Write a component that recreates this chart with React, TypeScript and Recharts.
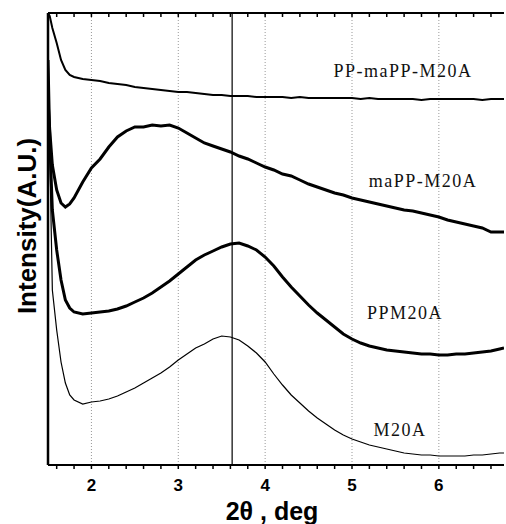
import React from 'react';
import { LineChart, Line, XAxis, YAxis, ReferenceLine } from 'recharts';

// 2-theta grid (deg)
const twoTheta = [
  1.5, 1.52, 1.55, 1.6, 1.65, 1.7, 1.75, 1.8, 1.9, 2.0, 2.1, 2.2, 2.3, 2.4, 2.5, 2.6, 2.7, 2.8, 2.9, 3.0,
  3.1, 3.2, 3.3, 3.4, 3.5, 3.6, 3.7, 3.8, 3.9, 4.0, 4.1, 4.2, 4.3, 4.4, 4.5, 4.6, 4.7, 4.8, 4.9, 5.0,
  5.1, 5.2, 5.3, 5.4, 5.5, 5.6, 5.7, 5.8, 5.9, 6.0, 6.1, 6.2, 6.3, 6.4, 6.5, 6.6, 6.7, 6.75,
];

// intensities (arbitrary units, offset per curve as in the figure)
const ppMaPP = [
  452, 449, 437, 422, 405, 395, 390, 388, 386, 385, 384, 382, 381, 380, 378, 377, 376, 375, 374, 373,
  373, 372, 371, 370, 370, 369, 369, 369, 368, 368, 368, 368, 367, 368, 367, 367, 367, 367, 367, 367,
  366, 367, 366, 366, 366, 366, 366, 365, 366, 366, 366, 366, 366, 366, 365, 366, 366, 366,
];
const maPP = [
  365, 335, 300, 275, 262, 258, 261, 267, 283, 297, 306, 318, 328, 334, 338, 338, 340, 339, 340, 337,
  332, 327, 322, 319, 316, 313, 309, 306, 302, 298, 295, 291, 289, 285, 281, 278, 275, 272, 270, 267,
  265, 263, 261, 259, 257, 255, 254, 252, 250, 248, 245, 243, 241, 239, 237, 233, 233, 233,
];
const ppm = [
  405, 325, 255, 215, 185, 165, 157, 153, 151, 152, 153, 154, 156, 159, 163, 167, 172, 178, 184, 191,
  198, 205, 210, 214, 218, 221, 222, 219, 215, 208, 199, 188, 178, 169, 160, 152, 145, 138, 131, 126,
  122, 119, 117, 115, 114, 113, 112, 111, 111, 110, 110, 111, 111, 112, 113, 114, 116, 117,
];
const m20a = [
  425, 315, 175, 135, 103, 82, 70, 65, 61, 63, 64, 66, 69, 73, 77, 82, 87, 92, 98, 105,
  111, 117, 121, 126, 129, 128, 125, 119, 112, 103, 91, 80, 70, 62, 54, 47, 41, 35, 30, 26,
  23, 20, 18, 16, 14, 12, 11, 10, 10, 9, 9, 9, 9, 10, 10, 11, 12, 12,
];

const xTicks = [
  1.6, 1.8, 2, 2.2, 2.4, 2.6, 2.8, 3, 3.2, 3.4, 3.6, 3.8, 4, 4.2, 4.4, 4.6, 4.8, 5,
  5.2, 5.4, 5.6, 5.8, 6, 6.2, 6.4, 6.6,
];
const gridX = [2, 3, 4, 5, 6];
const peakX = 3.62;
const yTop = 452;

const mk = (ys: number[]) => twoTheta.map((x, i) => ({ x, y: ys[i] }));

const series = [
  { name: 'PP-maPP-M20A', data: mk(ppMaPP), w: 2 },
  { name: 'maPP-M20A', data: mk(maPP), w: 3 },
  { name: 'PPM20A', data: mk(ppm), w: 3 },
  { name: 'M20A', data: mk(m20a), w: 1.2 },
];

const serif = { fontFamily: '"Liberation Serif", "DejaVu Serif", serif', fontSize: 18, letterSpacing: 1.5, fill: '#111' };
const sans = '"Liberation Sans", Arial, sans-serif';

export default function App() {
  return (
    <div style={{ position: 'absolute', left: 0, top: 0, background: '#fff' }}>
      <LineChart width={506} height={524} margin={{ top: 13, right: 2, left: 0, bottom: 0 }}>
        <XAxis
          dataKey="x"
          type="number"
          domain={[1.5, 6.75]}
          ticks={xTicks}
          allowDataOverflow
          height={59}
          axisLine={{ stroke: '#000', strokeWidth: 2 }}
          tickLine={{ stroke: '#000', strokeWidth: 1.5 }}
          tickSize={4}
          tickMargin={10}
          tickFormatter={(v: number) => (Number.isInteger(v) ? String(v) : '')}
          tick={{ fontSize: 17, fontWeight: 'bold', fill: '#000', fontFamily: sans }}
          label={{
            content: () => (
              <text x={272} y={520} textAnchor="middle" fontSize={25} fontWeight="bold" fontFamily={sans} fill="#000">
                2θ , deg
              </text>
            ),
          }}
        />
        <YAxis
          type="number"
          domain={[0, yTop]}
          allowDataOverflow
          width={48}
          tick={false}
          tickLine={false}
          axisLine={{ stroke: '#000', strokeWidth: 2.5 }}
          label={{
            content: () => (
              <text
                x={27}
                y={226}
                transform="rotate(-90 27 226)"
                textAnchor="middle"
                dominantBaseline="central"
                fontSize={26}
                fontWeight="bold"
                fontFamily={sans}
                fill="#000"
              >
                Intensity(A.U.)
              </text>
            ),
          }}
        />
        {gridX.map((g) => (
          <ReferenceLine key={g} x={g} stroke="#999" strokeDasharray="1 2" strokeWidth={1} />
        ))}
        <ReferenceLine x={peakX} stroke="#000" strokeWidth={1.2} />
        <ReferenceLine y={yTop} stroke="#000" strokeWidth={2} />
        {xTicks.map((t) => (
          <ReferenceLine
            key={'tt' + t}
            segment={[{ x: t, y: yTop }, { x: t, y: yTop - 4 }]}
            stroke="#000"
            strokeWidth={1.5}
          />
        ))}
        {series.map((s) => (
          <Line
            key={s.name}
            data={s.data}
            dataKey="y"
            type="linear"
            stroke="#000"
            strokeWidth={s.w}
            dot={false}
            isAnimationActive={false}
          />
        ))}
        <text x={403} y={77} textAnchor="middle" {...serif}>PP-maPP-M20A</text>
        <text x={423} y={187} textAnchor="middle" {...serif}>maPP-M20A</text>
        <text x={405} y={319} textAnchor="middle" {...serif}>PPM20A</text>
        <text x={400} y={436} textAnchor="middle" {...serif}>M20A</text>
      </LineChart>
    </div>
  );
}
